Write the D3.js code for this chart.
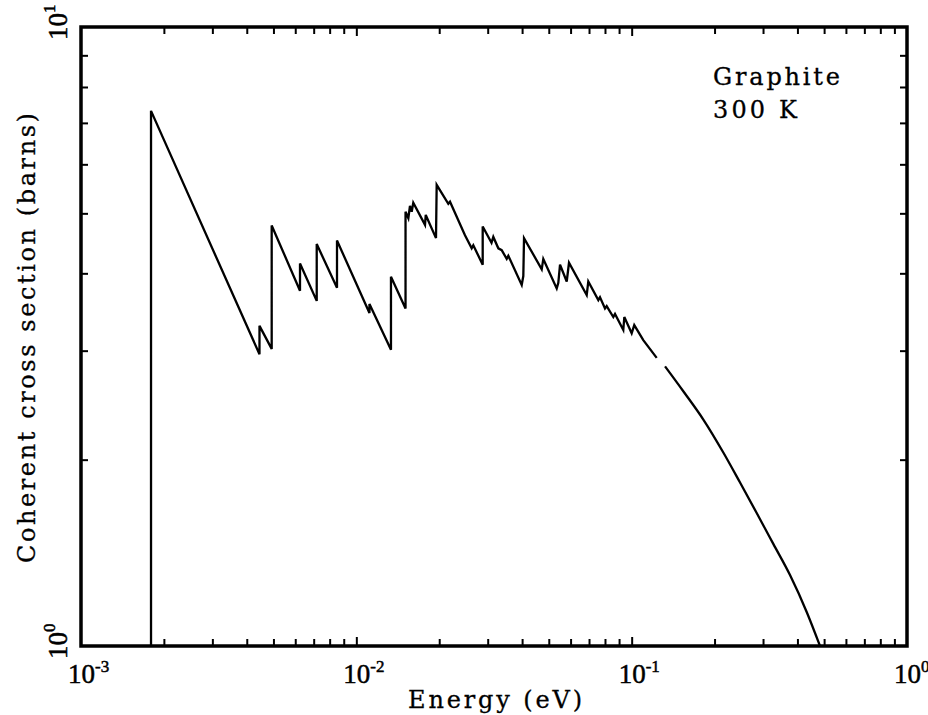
<!DOCTYPE html>
<html>
<head>
<meta charset="utf-8">
<script src="https://cdn.jsdelivr.net/npm/d3@7"></script>
<style>
  body { margin: 0; background: #fff; }
  svg { display: block; }
  text { fill: #000; }
</style>
</head>
<body>
<div id="chart"></div>
<script>
// neutron energy (eV) and coherent cross section (barns)
// null marks the small gap in the pen trace
const energy = [0.001796, 0.001796, 0.004449, 0.004449, 0.004927, 0.004927, 0.006243, 0.006243,
  0.007180, 0.007180, 0.008507, 0.008507, 0.01116, 0.01116, 0.01336, 0.01336, 0.01509, 0.01509,
  0.01545, 0.01566, 0.01589, 0.01610, 0.01776, 0.01787, 0.01947, 0.01958, 0.02158, 0.02189,
  0.02481, 0.02624, 0.02660, 0.02877, 0.02877, 0.03097, 0.03144, 0.03279, 0.03373, 0.03517,
  0.03565, 0.03987, 0.04041, 0.04065, 0.04713, 0.04776, 0.05343, 0.05415, 0.05493, 0.05809,
  0.05921, 0.06866, 0.06958, 0.07567, 0.07674, 0.08002, 0.08115, 0.08576, 0.08700, 0.09324,
  0.09404, 0.1000, 0.1022, 0.1102, 0.1233, 0.1280, 0.1322, 0.1540, 0.1821, 0.2152, 0.2475,
  0.2845, 0.3269, 0.3759, 0.4322, 0.4831];
const sigma = [1.00, 7.32, 2.96, 3.29, 3.02, 4.78, 3.75, 4.15,
  3.61, 4.46, 3.79, 4.52, 3.45, 3.57, 3.01, 3.95, 3.51, 5.03,
  4.91, 5.14, 5.03, 5.20, 4.79, 4.97, 4.56, 5.56, 5.18, 5.22,
  4.61, 4.39, 4.44, 4.13, 4.76, 4.48, 4.58, 4.39, 4.36, 4.22,
  4.27, 3.83, 3.96, 4.56, 4.06, 4.22, 3.78, 3.86, 4.13, 3.88,
  4.16, 3.69, 3.88, 3.62, 3.66, 3.51, 3.54, 3.40, 3.44, 3.24,
  3.40, 3.20, 3.30, 3.12, 2.92, null, 2.83, 2.58, 2.322, 2.054, 1.837,
  1.640, 1.462, 1.302, 1.135, 1.000];

const xMajor = [1e-3, 1e-2, 1e-1, 1];
const xLabels = ["-3", "-2", "-1", "0"];
const yMajor = [1, 10];
const yLabels = ["0", "1"];
const notes = ["Graphite", "300 K"];

const width = 928, height = 715;
const margin = {top: 27, right: 21, bottom: 69, left: 81};

const svg = d3.select("#chart").append("svg")
  .attr("width", width)
  .attr("height", height);

const x = d3.scaleLog()
  .domain([1e-3, 1])
  .range([margin.left, width - margin.right]);
const y = d3.scaleLog()
  .domain([1, 10])
  .range([height - margin.bottom, margin.top]);

const x0 = x.range()[0], x1 = x.range()[1];
const y0 = y.range()[0], y1 = y.range()[1];

// minor ticks on all four sides, pointing in
const xMinor = x.ticks().filter(d => xMajor.indexOf(d) < 0);
const yMinor = y.ticks().filter(d => yMajor.indexOf(d) < 0);

function ticks(g) {
  g.select(".domain").remove();
  g.selectAll(".tick line").attr("stroke", "#000").attr("stroke-width", 2);
}

svg.append("g").attr("transform", "translate(0," + y0 + ")")
  .call(d3.axisBottom(x).tickValues(xMinor).tickSize(-7).tickFormat(""))
  .call(ticks);
svg.append("g").attr("transform", "translate(0," + y0 + ")")
  .call(d3.axisBottom(x).tickValues([1e-2, 1e-1]).tickSize(-9).tickFormat(""))
  .call(ticks);
svg.append("g").attr("transform", "translate(0," + y1 + ")")
  .call(d3.axisTop(x).tickValues(xMinor).tickSize(-7).tickFormat(""))
  .call(ticks);
svg.append("g").attr("transform", "translate(0," + y1 + ")")
  .call(d3.axisTop(x).tickValues([1e-2, 1e-1]).tickSize(-9).tickFormat(""))
  .call(ticks);
svg.append("g").attr("transform", "translate(" + x0 + ",0)")
  .call(d3.axisLeft(y).tickValues(yMinor).tickSize(-7).tickFormat(""))
  .call(ticks);
svg.append("g").attr("transform", "translate(" + x1 + ",0)")
  .call(d3.axisRight(y).tickValues(yMinor).tickSize(-7).tickFormat(""))
  .call(ticks);

// frame
svg.append("rect")
  .attr("x", x0).attr("y", y1)
  .attr("width", x1 - x0).attr("height", y0 - y1)
  .attr("fill", "none")
  .attr("stroke", "#000")
  .attr("stroke-width", 3.5);

// curve: saw-tooth part straight, smooth tail after the gap
const points = energy.map((e, i) => ({e: e, s: sigma[i]}));
const gap = sigma.indexOf(null);

const sharp = d3.line()
  .x(d => x(d.e))
  .y(d => y(d.s));
const smooth = d3.line()
  .curve(d3.curveMonotoneX)
  .x(d => x(d.e))
  .y(d => y(d.s));

svg.append("path")
  .datum(points.slice(0, gap))
  .attr("d", sharp)
  .attr("fill", "none")
  .attr("stroke", "#000")
  .attr("stroke-width", 2.3)
  .attr("stroke-linejoin", "miter");

svg.append("path")
  .datum(points.slice(gap + 1))
  .attr("d", smooth)
  .attr("fill", "none")
  .attr("stroke", "#000")
  .attr("stroke-width", 2.3);

// tick labels
const labelFont = "'Liberation Serif', 'Times New Roman', serif";

xMajor.forEach(function(v, i) {
  const t = svg.append("text")
    .attr("x", x(v) - 13)
    .attr("y", y0 + 37)
    .style("font-family", labelFont)
    .style("font-size", "27px")
    .style("stroke", "#000")
    .style("stroke-width", 0.5);
  t.append("tspan").text("10");
  t.append("tspan").attr("dy", -11).style("font-size", "17px").text(xLabels[i]);
});

yMajor.forEach(function(v, i) {
  const t = svg.append("text")
    .attr("transform", "translate(67," + y(v) + ") rotate(-90)")
    .attr("x", -13)
    .style("font-family", labelFont)
    .style("font-size", "27px")
    .style("stroke", "#000")
    .style("stroke-width", 0.5);
  t.append("tspan").text("10");
  t.append("tspan").attr("dy", -12).style("font-size", "17px").text(yLabels[i]);
});

// axis titles and note, typewriter look
const typeFont = "'DejaVu Serif', serif";

svg.append("text")
  .attr("x", 408)
  .attr("y", 708)
  .attr("textLength", 174)
  .attr("lengthAdjust", "spacing")
  .style("font-family", typeFont)
  .style("font-size", "24px")
  .style("stroke", "#000")
  .style("stroke-width", 0.3)
  .text("Energy (eV)");

svg.append("text")
  .attr("transform", "translate(35,563) rotate(-90)")
  .attr("textLength", 450)
  .attr("lengthAdjust", "spacing")
  .style("font-family", typeFont)
  .style("font-size", "24px")
  .style("stroke", "#000")
  .style("stroke-width", 0.3)
  .text("Coherent cross section (barns)");

svg.append("text")
  .attr("x", 713)
  .attr("y", 85)
  .attr("textLength", 127)
  .attr("lengthAdjust", "spacing")
  .style("font-family", typeFont)
  .style("font-size", "24px")
  .style("stroke", "#000")
  .style("stroke-width", 0.3)
  .text(notes[0]);

svg.append("text")
  .attr("x", 713)
  .attr("y", 118)
  .attr("textLength", 84)
  .attr("lengthAdjust", "spacing")
  .style("font-family", typeFont)
  .style("font-size", "24px")
  .style("stroke", "#000")
  .style("stroke-width", 0.3)
  .text(notes[1]);
</script>
</body>
</html>
